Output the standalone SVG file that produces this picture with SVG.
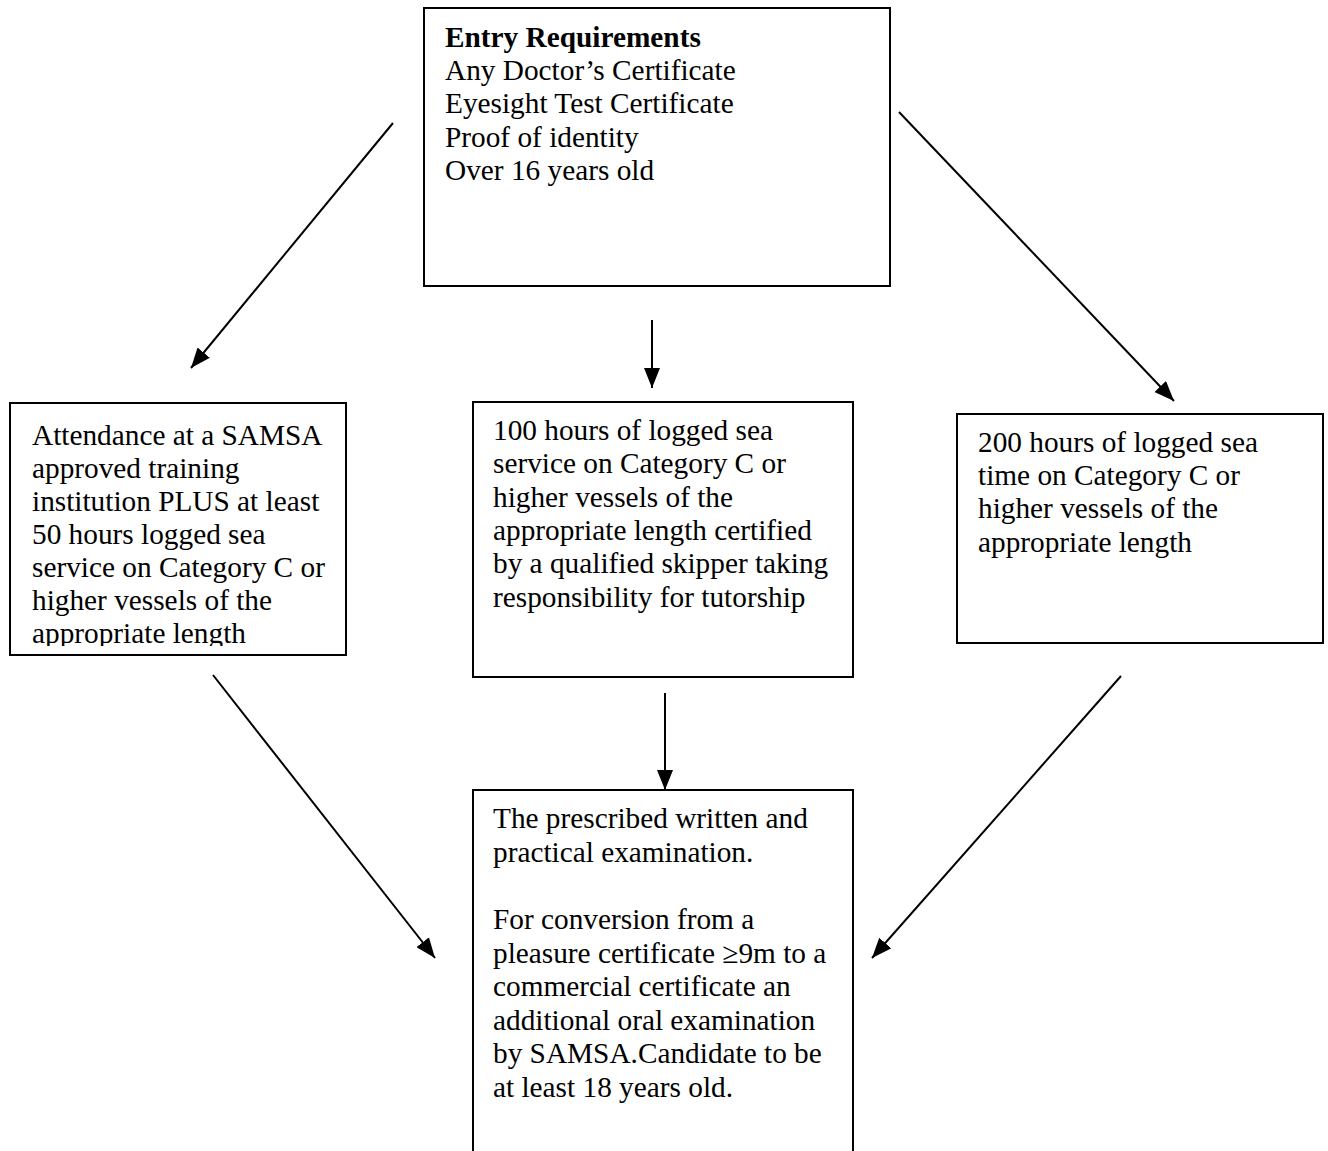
<svg xmlns="http://www.w3.org/2000/svg" width="1328" height="1151" viewBox="0 0 1328 1151">
  <style>
    .box { fill: #ffffff; stroke: #000000; stroke-width: 2; }
    .txt { font-family: "Liberation Serif", "Times New Roman", serif; font-size: 29.3px; fill: #000000; }
    .bold { font-weight: bold; }
    .conn { stroke: #000000; stroke-width: 2; fill: none; marker-end: url(#arrow); }
  </style>
  <defs>
    <marker id="arrow" viewBox="0 0 20 16" refX="20" refY="8" markerWidth="20" markerHeight="16" markerUnits="userSpaceOnUse" orient="auto">
      <path d="M0,0 L20,8 L0,16 Z" fill="#000000"/>
    </marker>
    <clipPath id="clipLeft">
      <rect x="10" y="403" width="336" height="243"/>
    </clipPath>
  </defs>
  <rect width="1328" height="1151" fill="#ffffff"/>

  <!-- Entry requirements -->
  <g id="node-entry">
    <rect class="box" x="424" y="8" width="466" height="278"/>
    <text class="txt" x="445" y="47"><tspan class="bold">Entry Requirements</tspan>
      <tspan x="445" y="80">Any Doctor’s Certificate</tspan>
      <tspan x="445" y="113">Eyesight Test Certificate</tspan>
      <tspan x="445" y="147">Proof of identity</tspan>
      <tspan x="445" y="180">Over 16 years old</tspan>
    </text>
  </g>

  <!-- Route A: training institution -->
  <g id="node-training">
    <rect class="box" x="10" y="403" width="336" height="252"/>
    <text class="txt" clip-path="url(#clipLeft)">
      <tspan x="32" y="445">Attendance at a SAMSA</tspan>
      <tspan x="32" y="478">approved training</tspan>
      <tspan x="32" y="511">institution PLUS at least</tspan>
      <tspan x="32" y="544">50 hours logged sea</tspan>
      <tspan x="32" y="577">service on Category C or</tspan>
      <tspan x="32" y="610">higher vessels of the</tspan>
      <tspan x="32" y="643">appropriate length</tspan>
    </text>
  </g>

  <!-- Route B: 100 hours with tutor -->
  <g id="node-tutor">
    <rect class="box" x="473" y="402" width="380" height="275"/>
    <text class="txt">
      <tspan x="493" y="440">100 hours of logged sea</tspan>
      <tspan x="493" y="473">service on Category C or</tspan>
      <tspan x="493" y="507">higher vessels of the</tspan>
      <tspan x="493" y="540">appropriate length certified</tspan>
      <tspan x="493" y="573">by a qualified skipper taking</tspan>
      <tspan x="493" y="607">responsibility for tutorship</tspan>
    </text>
  </g>

  <!-- Route C: 200 hours -->
  <g id="node-seatime">
    <rect class="box" x="957" y="414" width="366" height="229"/>
    <text class="txt">
      <tspan x="978" y="452">200 hours of logged sea</tspan>
      <tspan x="978" y="485">time on Category C or</tspan>
      <tspan x="978" y="518">higher vessels of the</tspan>
      <tspan x="978" y="552">appropriate length</tspan>
    </text>
  </g>

  <!-- Examination -->
  <g id="node-exam">
    <rect class="box" x="473" y="790" width="380" height="380"/>
    <text class="txt">
      <tspan x="493" y="828">The prescribed written and</tspan>
      <tspan x="493" y="862">practical examination.</tspan>
      <tspan x="493" y="929">For conversion from a</tspan>
      <tspan x="493" y="963">pleasure certificate ≥9m to a</tspan>
      <tspan x="493" y="996">commercial certificate an</tspan>
      <tspan x="493" y="1030">additional oral examination</tspan>
      <tspan x="493" y="1063">by SAMSA.Candidate to be</tspan>
      <tspan x="493" y="1097">at least 18 years old.</tspan>
    </text>
  </g>

  <!-- Connectors -->
  <g id="connectors">
    <line class="conn" x1="393" y1="123" x2="191" y2="368"/>
    <line class="conn" x1="652" y1="320" x2="652" y2="388"/>
    <line class="conn" x1="899" y1="112" x2="1174" y2="401"/>
    <line class="conn" x1="213" y1="675" x2="435" y2="958"/>
    <line class="conn" x1="665" y1="693" x2="665" y2="790"/>
    <line class="conn" x1="1121" y1="676" x2="872" y2="958"/>
  </g>
</svg>
